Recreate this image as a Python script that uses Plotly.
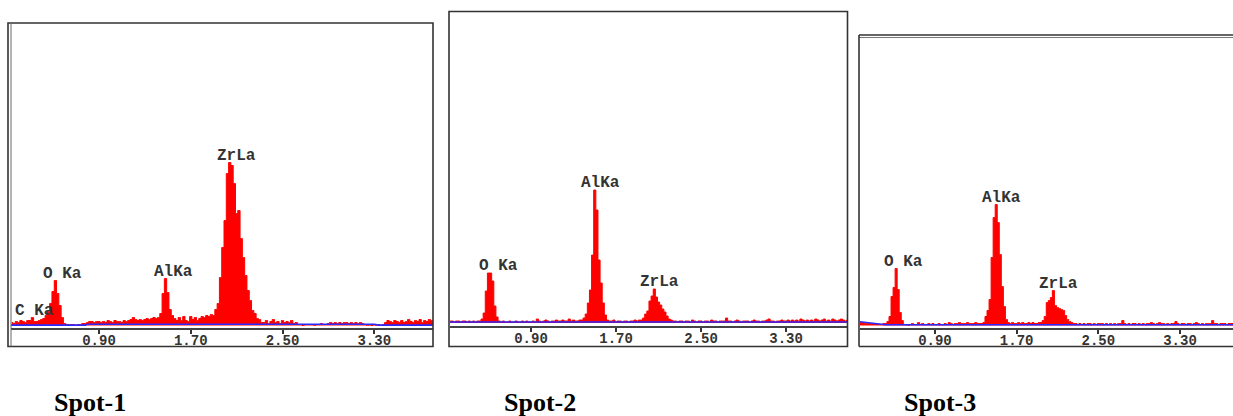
import plotly.graph_objects as go

W, H = 1233, 416

# ---------------- data ----------------
# channel grid (keV): first channel centre and channel width
CH_START = 0.14
CH_STEP = 0.02

# Spot-1 counts per channel (0.14 ... 3.88 keV)
spot1_counts = [
    3, 2, 4, 3, 5, 4, 3, 5, 5, 8,
    4, 4, 5, 6, 7, 10, 14, 22, 34, 45,
    32, 20, 8, 2, 1, 1, 1, 1, 0, 1,
    1, 2, 2, 3, 4, 4, 3, 4, 4, 3,
    4, 3, 5, 4, 3, 5, 4, 4, 3, 5,
    4, 5, 6, 8, 6, 5, 6, 5, 6, 7,
    6, 7, 8, 7, 8, 12, 32, 47, 33, 16,
    10, 7, 5, 8, 5, 9, 5, 4, 9, 6,
    8, 5, 7, 9, 8, 10, 9, 11, 10, 16,
    22, 48, 78, 105, 152, 163, 160, 142, 112, 115,
    87, 68, 50, 35, 25, 15, 12, 7, 6, 3,
    3, 5, 2, 4, 6, 3, 4, 2, 5, 3,
    4, 3, 5, 2, 3, 1, 1, 0, 1, 1,
    1, 1, 0, 1, 1, 2, 1, 1, 2, 3,
    2, 3, 2, 3, 2, 3, 3, 2, 3, 2,
    3, 2, 3, 2, 1, 0, 1, 0, 1, 0,
    1, 0, 1, 3, 5, 4, 3, 5, 4, 3,
    5, 3, 4, 6, 4, 3, 5, 4, 6, 3,
    5, 4, 6, 5, 5, 4, 5, 4,
]

# Spot-2 counts per channel
spot2_counts = [
    2, 2, 1, 2, 2, 1, 2, 2, 1, 2,
    1, 2, 1, 2, 2, 4, 10, 32, 50, 50,
    42, 17, 6, 2, 1, 2, 1, 1, 2, 1,
    1, 2, 1, 1, 2, 1, 2, 1, 1, 2,
    1, 4, 2, 1, 2, 3, 2, 1, 2, 2,
    3, 2, 2, 3, 2, 2, 4, 2, 3, 2,
    2, 3, 3, 5, 9, 20, 33, 68, 133, 113,
    63, 40, 20, 8, 3, 2, 2, 3, 1, 2,
    2, 1, 2, 2, 1, 2, 2, 3, 2, 3,
    3, 5, 9, 12, 22, 27, 34, 26, 21, 18,
    14, 11, 7, 4, 3, 2, 2, 1, 2, 2,
    1, 2, 2, 1, 3, 2, 1, 2, 2, 1,
    2, 2, 1, 3, 2, 2, 1, 2, 2, 2,
    5, 2, 2, 1, 2, 3, 2, 1, 2, 2,
    2, 1, 2, 3, 2, 2, 1, 2, 2, 3,
    4, 2, 2, 1, 2, 2, 3, 2, 2, 3,
    2, 3, 2, 3, 2, 4, 3, 2, 3, 2,
    3, 2, 4, 3, 2, 3, 4, 2, 3, 2,
    4, 3, 2, 3, 4, 3, 2, 3,
]

# Spot-3 counts per channel
spot3_counts = [
    3, 3, 3, 3, 2, 2, 2, 2, 2, 2,
    2, 1, 1, 2, 2, 4, 9, 29, 38, 57,
    36, 13, 5, 1, 1, 0, 1, 2, 1, 1,
    3, 1, 2, 1, 1, 2, 1, 2, 1, 1,
    2, 1, 1, 2, 1, 3, 2, 1, 2, 2,
    3, 2, 2, 2, 3, 2, 2, 2, 3, 2,
    2, 2, 3, 9, 15, 26, 68, 108, 121, 103,
    71, 39, 19, 6, 3, 2, 3, 2, 2, 3,
    2, 3, 2, 2, 3, 2, 3, 2, 2, 3,
    3, 5, 9, 23, 25, 28, 35, 20, 18, 17,
    16, 15, 10, 6, 4, 3, 2, 2, 1, 2,
    1, 2, 1, 2, 2, 1, 2, 1, 2, 2,
    2, 1, 2, 1, 2, 1, 2, 1, 2, 2,
    5, 2, 1, 2, 1, 2, 2, 1, 2, 1,
    2, 1, 2, 2, 3, 2, 1, 2, 3, 2,
    2, 1, 2, 1, 2, 2, 4, 2, 1, 2,
    2, 1, 2, 2, 1, 2, 3, 2, 1, 2,
    1, 2, 2, 2, 5, 2, 2, 1, 2, 2,
    2, 1, 2, 2, 2, 1, 2, 2,
]

# fitted background (blue line): energies and levels
spot1_bg_e = [0.13, 0.78, 0.80, 3.30, 3.34, 3.90]
spot1_bg_v = [0.4, 0.4, 1.2, 1.2, 0.4, 0.4]
spot2_bg_e = [0.13, 3.90]
spot2_bg_v = [1.0, 1.0]
spot3_bg_e = [0.15, 0.22, 0.30, 0.42, 3.90]
spot3_bg_v = [4.0, 3.0, 2.0, 0.8, 0.8]

# peak identifications (line energies, keV)
spot1_lines = [("C Ka", 0.277), ("O Ka", 0.525), ("AlKa", 1.486), ("ZrLa", 2.042)]
spot2_lines = [("O Ka", 0.525), ("AlKa", 1.486), ("ZrLa", 2.042)]
spot3_lines = [("O Ka", 0.525), ("AlKa", 1.486), ("ZrLa", 2.042)]

tick_values = [0.90, 1.70, 2.50, 3.30]
tick_labels = ["0.90", "1.70", "2.50", "3.30"]
spot_names = ["Spot-1", "Spot-2", "Spot-3"]

# ---------------- layout helpers ----------------
def px(x):
    return x / W


def py(y):
    return 1 - y / H


def channel_energies(n):
    return [round(CH_START + i * CH_STEP, 4) for i in range(n)]


panels = [
    dict(counts=spot1_counts, bg_e=spot1_bg_e, bg_v=spot1_bg_v, lines=spot1_lines,
         xd=(11, 433), yd=(23, 328), xr=(0.133, 3.812), yr=(-2.5, 302.5)),
    dict(counts=spot2_counts, bg_e=spot2_bg_e, bg_v=spot2_bg_v, lines=spot2_lines,
         xd=(450, 847), yd=(12, 326), xr=(0.138, 3.873), yr=(-3, 311)),
    dict(counts=spot3_counts, bg_e=spot3_bg_e, bg_v=spot3_bg_v, lines=spot3_lines,
         xd=(860, 1233), yd=(37, 328), xr=(0.166, 3.819), yr=(-2.5, 288.5)),
]

fig = go.Figure()
annotations = []
layout_axes = {}

for i, p in enumerate(panels, start=1):
    xa = "x" if i == 1 else f"x{i}"
    ya = "y" if i == 1 else f"y{i}"
    en = channel_energies(len(p["counts"]))
    fig.add_trace(go.Scatter(
        x=en, y=p["counts"], xaxis=xa, yaxis=ya, mode="lines",
        line=dict(color="#ff0000", width=1, shape="hvh"),
        fill="tozeroy", fillcolor="#ff0000", hoverinfo="skip"))
    fig.add_trace(go.Scatter(
        x=p["bg_e"], y=p["bg_v"], xaxis=xa, yaxis=ya, mode="lines",
        line=dict(color="#2a2aff", width=1.6), hoverinfo="skip"))

    layout_axes["xaxis" if i == 1 else f"xaxis{i}"] = dict(
        domain=[px(p["xd"][0]), px(p["xd"][1])], anchor=ya, range=list(p["xr"]),
        showgrid=False, zeroline=False, showline=True, linecolor="#444444", linewidth=2,
        ticks="outside", ticklen=4, tickwidth=2, tickcolor="#333333",
        tickvals=tick_values, ticktext=tick_labels, ticklabelstandoff=-6,
        tickfont=dict(family="Liberation Mono", size=14, color="#333333", weight="bold"),
        fixedrange=True)
    layout_axes["yaxis" if i == 1 else f"yaxis{i}"] = dict(
        domain=[py(p["yd"][1]), py(p["yd"][0])], anchor=xa, range=list(p["yr"]),
        showgrid=False, zeroline=False, showline=False, showticklabels=False,
        ticks="", fixedrange=True)

    # peak labels: above local maximum near the line energy
    for name, e in p["lines"]:
        local = [c for c, x in zip(p["counts"], en) if abs(x - e) <= 0.06]
        annotations.append(dict(
            x=e, y=max(local) + 7, xref=xa, yref=ya, text=name, showarrow=False,
            xanchor="center", yanchor="middle", xshift=7,
            font=dict(family="Liberation Mono", size=16, color="#333333", weight="bold")))

# spot captions
for name, cx in zip(spot_names, [90, 540, 940]):
    annotations.append(dict(
        x=px(cx), y=py(402), xref="paper", yref="paper", text="<b>" + name + "</b>",
        showarrow=False, xanchor="center", yanchor="middle",
        font=dict(family="Liberation Serif", size=26, color="#000000")))

# panel frames
frame = dict(color="#333333", width=1.6)
shapes = [
    dict(type="rect", xref="paper", yref="paper", x0=px(8), x1=px(433), y0=py(346.5), y1=py(23), line=frame),
    dict(type="line", xref="paper", yref="paper", x0=px(11), x1=px(11), y0=py(346.5), y1=py(23), line=dict(color="#666666", width=1)),
    dict(type="rect", xref="paper", yref="paper", x0=px(449), x1=px(847.5), y0=py(346.5), y1=py(11.5), line=frame),
    dict(type="line", xref="paper", yref="paper", x0=px(859), x1=px(1234), y0=py(35), y1=py(35), line=frame),
    dict(type="line", xref="paper", yref="paper", x0=px(859), x1=px(1234), y0=py(37.5), y1=py(37.5), line=dict(color="#777777", width=1)),
    dict(type="line", xref="paper", yref="paper", x0=px(859), x1=px(1234), y0=py(346.5), y1=py(346.5), line=frame),
    dict(type="line", xref="paper", yref="paper", x0=px(859), x1=px(859), y0=py(346.5), y1=py(35), line=frame),
]

fig.update_layout(
    width=W, height=H, margin=dict(l=0, r=0, t=0, b=0, pad=0),
    paper_bgcolor="white", plot_bgcolor="rgba(0,0,0,0)", showlegend=False,
    annotations=annotations, shapes=shapes, **layout_axes)

fig.write_html("out.html", config={"displayModeBar": False})
